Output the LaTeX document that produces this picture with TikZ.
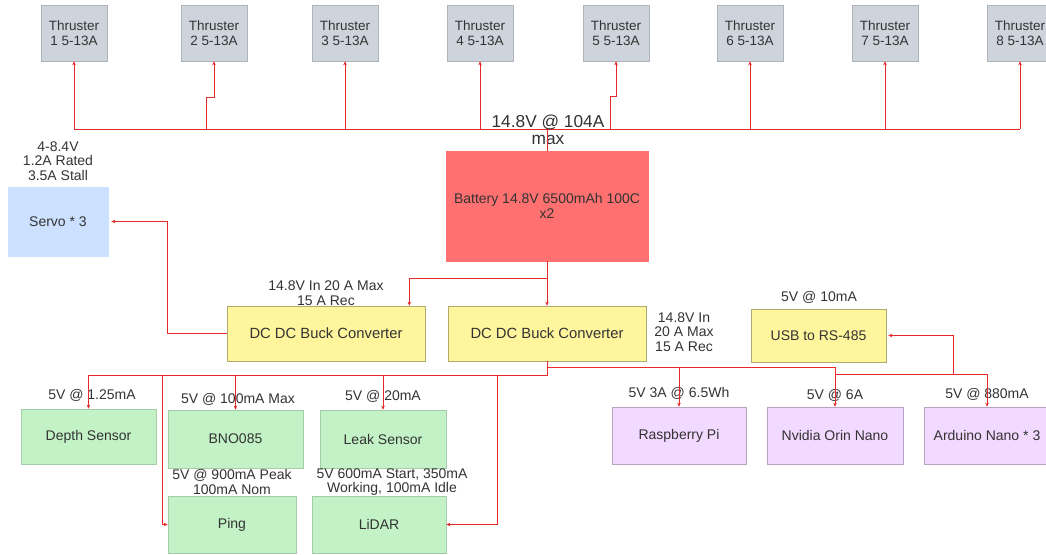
\documentclass[tikz,border=0pt]{standalone}
\usepackage{fontspec}
\setmainfont{Liberation Sans}
\usetikzlibrary{arrows.meta,calc}
\definecolor{wirered}{RGB}{230,40,40}
\definecolor{thrgray}{RGB}{206,212,220}
\definecolor{batred}{RGB}{255,112,112}
\definecolor{buckyel}{RGB}{255,245,157}
\definecolor{servoblue}{RGB}{204,225,255}
\definecolor{sensgreen}{RGB}{194,242,198}
\definecolor{cpupurple}{RGB}{242,217,255}
\definecolor{txtgray}{RGB}{51,51,51}

\begin{document}
\begin{tikzpicture}[x=1pt,y=-1pt,line width=1pt,>={Stealth[length=4pt,width=3.5pt]},
  font=\fontsize{14}{14.5}\selectfont,text=txtgray,
  blk/.style={rectangle,inner sep=0pt,line width=0.6pt,align=center},
  thr/.style={blk,fill=thrgray,draw=thrgray!85!black,minimum width=66pt,minimum height=56pt,
    font=\fontsize{13.5}{14.5}\selectfont},
  buck/.style={blk,fill=buckyel,draw=buckyel!70!black,minimum width=198pt,minimum height=55pt,
    font=\fontsize{14.8}{15}\selectfont},
  sens/.style={blk,fill=sensgreen,draw=sensgreen!85!black,minimum height=57pt},
  cpu/.style={blk,fill=cpupurple,draw=cpupurple!75!black,minimum height=57pt},
  lbl/.style={align=center,inner sep=0pt},
  wire/.style={draw=wirered,line width=1pt}]
\clip (0,0) rectangle (1046,554);
% ---------- thrusters ----------
\node[thr] (t1) at (74,33) {Thruster\\1 5-13A};
\node[thr] (t2) at (214,33) {Thruster\\2 5-13A};
\node[thr] (t3) at (345,33) {Thruster\\3 5-13A};
\node[thr] (t4) at (480,33) {Thruster\\4 5-13A};
\node[thr] (t5) at (616,33) {Thruster\\5 5-13A};
\node[thr] (t6) at (750,33) {Thruster\\6 5-13A};
\node[thr] (t7) at (885,33) {Thruster\\7 5-13A};
\node[thr] (t8) at (1020,33) {Thruster\\8 5-13A};
% ---------- 14.8V bus ----------
\coordinate (busL) at (74,129);
\coordinate (busR) at (1020,129);
\draw[wire] (busL) -- (busR);
\node[lbl,font=\fontsize{17.3}{17}\selectfont] (lblbus) at (548,129.5) {14.8V @ 104A\\max};
\draw[wire,->] (busL) -- (t1.south);
\coordinate (j2) at (206,97);
\draw[wire,->] (j2 |- busL) -- (j2) -| (t2.south);
\draw[wire,->] (t3.south |- busL) -- (t3.south);
\draw[wire,->] (t4.south |- busL) -- (t4.south);
\coordinate (j5) at (610,96);
\draw[wire,->] (j5 |- busL) -- (j5) -| (t5.south);
\draw[wire,->] (t6.south |- busL) -- (t6.south);
\draw[wire,->] (t7.south |- busL) -- (t7.south);
\draw[wire,->] (busR) -- (t8.south);
% ---------- battery ----------
\node[blk,fill=batred,draw=batred,minimum width=202pt,minimum height=110pt] (bat) at (547,206) {Battery 14.8V 6500mAh 100C\\x2};
\draw[wire] (bat.north) -- (bat.north |- busL);
% ---------- buck converters ----------
\node[buck] (buck1) at (326,333.5) {DC DC Buck Converter};
\node[buck] (buck2) at (547,333.5) {DC DC Buck Converter};
\node[lbl] (lblbuck1) at (326,293) {14.8V In 20 A Max\\15 A Rec};
\node[lbl] (lblbuck2) at (684,332) {14.8V In\\20 A Max\\15 A Rec};
\coordinate (split) at (547,278);
\draw[wire,->] (bat.south) -- (buck2.north);
\draw[wire,->] (split) -| ([xshift=-16pt]buck1.north east);
% ---------- servo ----------
\node[blk,fill=servoblue,draw=servoblue,minimum width=100pt,minimum height=69pt] (servo) at (58,221.5) {Servo * 3};
\node[lbl] (lblservo) at (58,161) {4-8.4V\\1.2A Rated\\3.5A Stall};
\draw[wire,->] (buck1.west) -- ++(-59,0) |- ([xshift=3pt]servo.east);
% ---------- USB to RS-485 ----------
\node[buck,minimum width=135pt,minimum height=53pt,font=\fontsize{14}{14.5}\selectfont] (usb) at (818.5,335.5) {USB to RS-485};
\node[lbl] (lblusb) at (819,297) {5V @ 10mA};
% ---------- sensors ----------
\node[sens,minimum width=135pt,minimum height=55pt] (depth) at (88.5,436.5) {Depth Sensor};
\node[sens,minimum width=135pt,minimum height=58pt] (bno) at (235.5,439) {BNO085};
\node[sens,minimum width=126pt,minimum height=58pt] (leak) at (383,439) {Leak Sensor};
\node[sens,minimum width=128pt] (ping) at (232,524.5) {Ping};
\node[sens,minimum width=134pt] (lidar) at (379,524.5) {LiDAR};
\node[lbl] (lbldepth) at (92,395) {5V @ 1.25mA};
\node[lbl] (lblbno) at (238,399) {5V @ 100mA Max};
\node[lbl] (lblleak) at (383,396) {5V @ 20mA};
\node[lbl] (lblping) at (232,482) {5V @ 900mA Peak\\100mA Nom};
\node[lbl] (lbllidar) at (392,482) {5V 600mA Start, 350mA\\Working, 100mA Idle};
% ---------- compute ----------
\node[cpu,minimum width=134pt] (rpi) at (679,435.5) {Raspberry Pi};
\node[cpu,minimum width=136pt] (orin) at (835,435.5) {Nvidia Orin Nano};
\node[cpu,minimum width=126pt] (nano) at (987,435.5) {Arduino Nano * 3};
\node[lbl] (lblrpi) at (679,393) {5V 3A @ 6.5Wh};
\node[lbl] (lblorin) at (835,395) {5V @ 6A};
\node[lbl] (lblnano) at (987,394) {5V @ 880mA};
% ---------- 5V rail, left ----------
\coordinate (lbus) at (547,375);
\draw[wire] (buck2.south) -- (lbus) -- (lbus -| depth.north);
\draw[wire,->] (depth.north |- lbus) -- (depth.north);
\draw[wire,->] (bno.north |- lbus) -- (bno.north);
\draw[wire,->] (leak.north |- lbus) -- (leak.north);
\coordinate (pingtap) at (162,375);
\draw[wire,->] (pingtap) |- (ping.west);
\coordinate (lidartap) at (497,375);
\draw[wire,->] (lidartap) |- (lidar.east);
% ---------- 5V rail, right ----------
\coordinate (rbus) at (547,367);
\draw[wire,->] (rbus) -| (rpi.north);
\draw[wire,->] (rpi.north |- rbus) -| (orin.north);
\coordinate (abus) at (835,374);
\draw[wire,->] (abus) -| (nano.north);
\coordinate (usbtap) at (953,374);
\draw[wire,->] (usbtap) |- ([xshift=2pt]usb.east);
\end{tikzpicture}
\end{document}
